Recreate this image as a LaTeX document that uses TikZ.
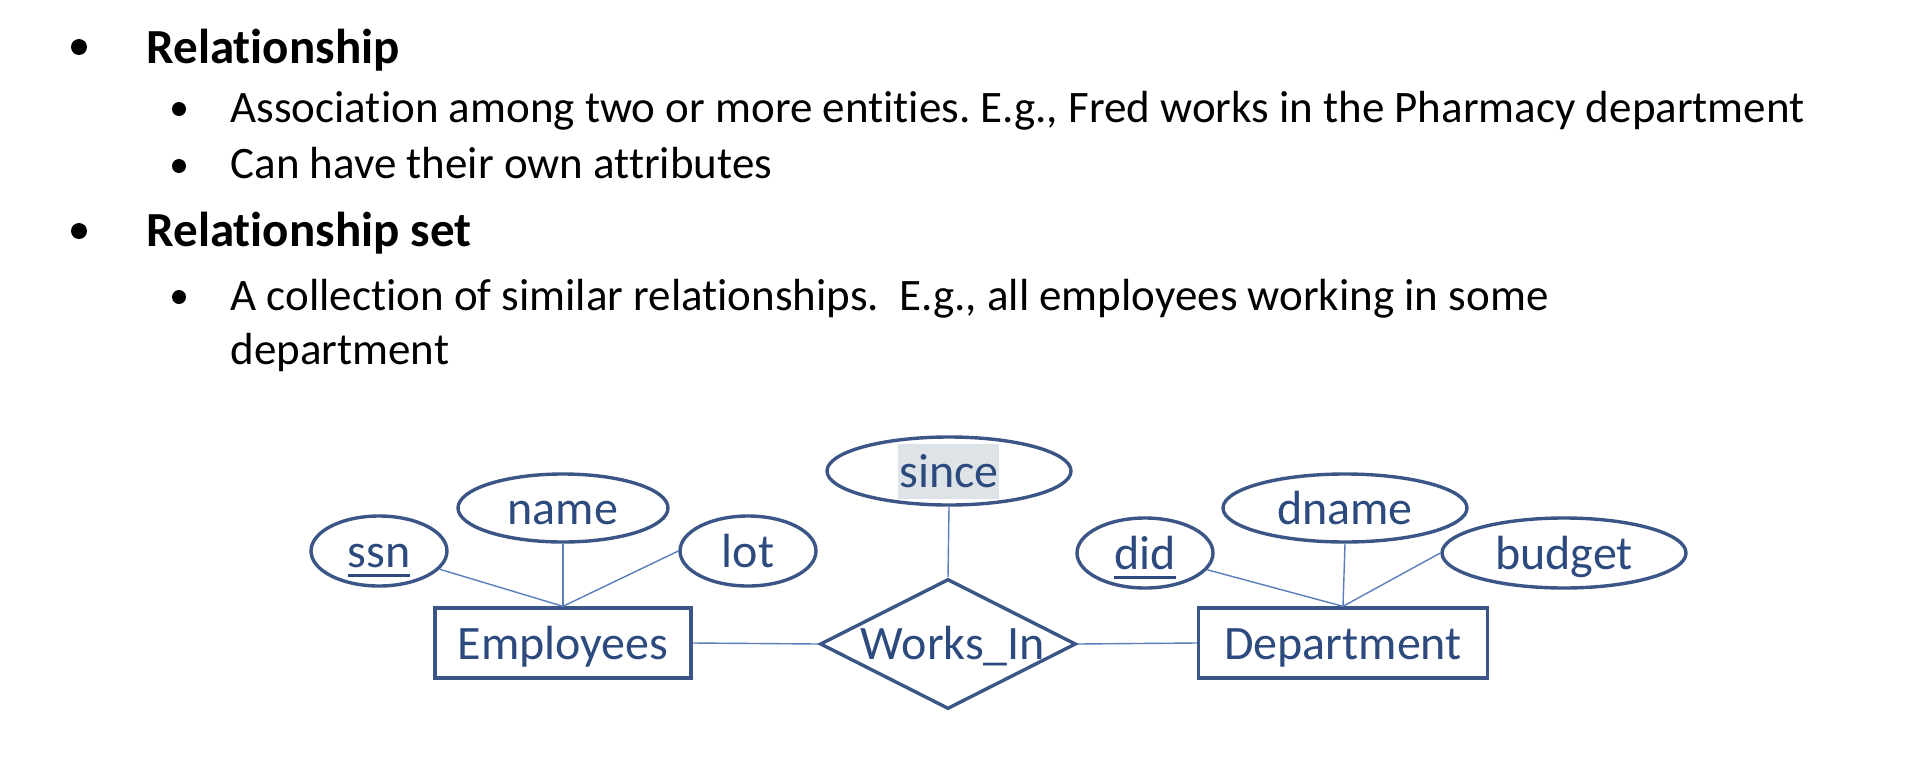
\documentclass[tikz,border=0pt]{standalone}
\usepackage{fontspec}
\setmainfont{Carlito}[Ligatures=NoCommon]
\usetikzlibrary{shapes.geometric}
\definecolor{erline}{HTML}{3A5586}
\definecolor{ertext}{HTML}{2C4A7D}
\definecolor{erlink}{HTML}{5B7EBB}
\definecolor{hilite}{HTML}{DEE3E7}
\newcommand\keyattr[1]{\setbox0\hbox{#1}\rlap{\rule[-9.5pt]{\wd0}{3pt}}\box0}
\frenchspacing
\begin{document}
\begin{tikzpicture}[x=1pt,y=-1pt,
  diagfont/.style={font=\fontsize{48}{58}\selectfont},
  attr/.style={ellipse, draw=erline, line width=3.4pt, inner sep=0pt,
    minimum width=#1, minimum height=70pt, text=ertext, diagfont,
    text height=33pt, text depth=0pt},
  entity/.style={rectangle, draw=erline, line width=3.4pt, inner sep=0pt,
    minimum width=#1, minimum height=70pt, text=ertext, diagfont,
    text height=33pt, text depth=0pt},
  relship/.style={diamond, draw=erline, line width=3.4pt, inner sep=0pt,
    minimum width=256pt, minimum height=130pt},
  link/.style={draw=erlink, line width=1.4pt},
  head/.style={anchor=base west, font=\fontsize{49}{59}\selectfont\bfseries},
  item/.style={anchor=base west, font=\fontsize{45}{54}\selectfont},
  bigdot/.style={circle, fill=black, inner sep=0pt, minimum size=16pt},
  smalldot/.style={circle, fill=black, inner sep=0pt, minimum size=14pt},
]
\useasboundingbox (0,0) rectangle (1912,766);

% bulleted text
\node[bigdot] (b1) at (79,47) {};
\node[head] (t1) at (143,63) {Relationship};
\node[smalldot] (b11) at (179,109) {};
\node[item] (t11) at (227,122) {Association among two or more entities. E.g., Fred works in the Pharmacy department};
\node[smalldot] (b12) at (179,166) {};
\node[item] (t12) at (227,178) {Can have their own attributes};
\node[bigdot] (b2) at (79,231) {};
\node[head] (t2) at (143,246) {Relationship set};
\node[smalldot] (b21) at (179,297) {};
\node[item] (t21) at (227,310) {A collection of similar relationships.~ E.g., all employees working in some};
\node[item] (t22) at (227,364) {department};

% ER diagram
\fill[hilite] (898,444) rectangle (999,499);
\node[attr=136pt] (ssn) at (379,551) {\keyattr{ssn}};
\node[attr=210pt, minimum height=68pt] (name) at (563,508) {name};
\node[attr=136pt] (lot) at (748,551) {lot};
\node[entity=256pt] (emp) at (563,643) {Employees};

\node[attr=244pt, minimum height=68pt] (since) at (949,471) {since};
\node[relship] (wi) at (948,644) {};
\node[text=ertext, diagfont, text height=33pt, text depth=0pt, inner sep=0pt] (wilabel) at (953,643) {Works\_In};

\node[attr=136pt] (did) at (1145,553) {\keyattr{did}};
\node[attr=244pt, minimum height=68pt] (dname) at (1345,508) {dname};
\node[attr=244pt] (budget) at (1564,553) {budget};
\node[entity=289pt] (dept) at (1343,643) {Department};

\draw[link] (ssn) -- (emp.north);
\draw[link] (name.south) -- (emp.north);
\draw[link] (lot.west) -- (emp.north);
\draw[link] (since.south) -- (wi.north);
\draw[link] (emp.east) -- (wi.west);
\draw[link] (wi.east) -- (dept.west);
\draw[link] (did) -- (dept.north);
\draw[link] (dname.south) -- (dept.north);
\draw[link] (budget.west) -- (dept.north);
\end{tikzpicture}
\end{document}
